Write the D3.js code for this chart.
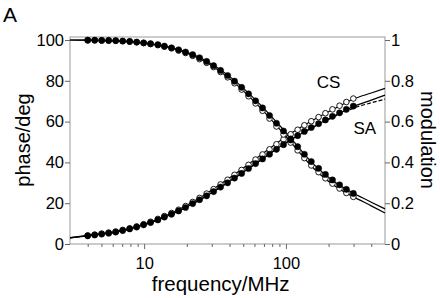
<!DOCTYPE html>
<html><head><meta charset="utf-8">
<script src="https://cdn.jsdelivr.net/npm/d3@7/dist/d3.min.js"></script>
<style>body{margin:0;background:#fff}svg{display:block}text{font-family:"Liberation Sans",Arial,Helvetica,sans-serif}</style>
</head><body><svg id="c" width="440" height="298"></svg>
<script>
// data
const freq = [4.00,4.48,5.02,5.62,6.30,7.06,7.91,8.86,9.92,11.1,12.5,13.9,15.6,17.5,19.6,22.0,24.6,27.6,30.9,34.6,38.8,43.4,48.7,54.5,61.1,68.4,76.6,85.8,96.2,108,121,135,151,170,190,213,239,267,299];
const phaseSA = [4.0,4.4,4.85,5.3,5.85,6.6,7.4,8.3,9.4,10.5,11.8,13.2,14.6,16.2,17.9,19.8,21.7,23.6,25.7,27.9,30.0,32.3,34.6,37.0,39.4,41.7,44.0,46.4,48.7,51.0,53.1,55.2,57.1,59.0,60.8,62.6,64.3,66.0,67.6];
const phaseCS = [4.2,4.6,5.1,5.6,6.1,6.9,7.7,8.6,9.7,10.9,12.3,13.7,15.2,16.8,18.6,20.6,22.6,24.7,26.9,29.2,31.5,33.9,36.3,38.8,41.4,43.9,46.4,48.9,51.3,53.8,56.0,58.2,60.2,62.2,64.1,66.0,67.8,69.6,71.3];
const modSA = [0.999,0.999,0.998,0.998,0.997,0.995,0.993,0.990,0.986,0.982,0.977,0.970,0.962,0.952,0.941,0.928,0.913,0.895,0.874,0.851,0.826,0.798,0.768,0.736,0.702,0.667,0.630,0.592,0.554,0.515,0.477,0.440,0.404,0.371,0.341,0.314,0.290,0.268,0.248];
const modCS = [0.999,0.999,0.998,0.997,0.996,0.994,0.992,0.989,0.985,0.980,0.975,0.967,0.959,0.948,0.936,0.922,0.906,0.888,0.867,0.843,0.817,0.788,0.757,0.724,0.689,0.653,0.615,0.576,0.537,0.497,0.459,0.421,0.385,0.352,0.322,0.296,0.272,0.250,0.231];
// fitted curves
const fitFreq = [3,4,6.3,10,15.8,25.1,39.8,63.1,100,158,251,300,400,500];
const fitPhaseSA = [3.0,4.0,5.8,9.4,14.7,21.9,30.6,40.0,49.6,57.6,64.8,67.4,70.5,73.0];
const fitPhaseCS = [3.1,4.2,6.1,9.7,15.3,22.9,32.3,42.4,52.6,61.0,68.4,71.1,74.0,76.3];
const fitPhaseSAdash = [3.0,4.0,5.8,9.4,14.7,21.9,30.6,40.0,49.6,57.4,64.3,66.6,69.2,71.0];
const fitModSA = [1.0,0.999,0.997,0.986,0.962,0.912,0.823,0.697,0.547,0.389,0.279,0.249,0.205,0.172];
const fitModCS = [1.0,0.999,0.996,0.985,0.959,0.906,0.812,0.682,0.528,0.369,0.260,0.231,0.187,0.152];
const majorX = [10,100];
const minorX = [4,5,6,7,8,9,20,30,40,50,60,70,80,90,200,300,400];
const leftTicks = [0,20,40,60,80,100];
const rightTicks = [0,0.2,0.4,0.6,0.8,1];

const svg = d3.select("#c");
const L=70,R=385,T=37,B=244;
const x = d3.scaleLog().domain([3,500]).range([L,R]);
const y = d3.scaleLinear().domain([0,100]).range([B,40]);
const y2 = d3.scaleLinear().domain([0,1]).range([B,40]);

// frame
svg.append("rect").attr("x",L).attr("y",T).attr("width",R-L).attr("height",B-T)
  .attr("fill","none").attr("stroke","#999").attr("stroke-width",1);

function styleAxis(g){
  g.select(".domain").remove();
  g.selectAll(".tick line").attr("stroke","#666");
  g.selectAll(".tick text").attr("fill","#000").attr("font-size",16.5);
}
svg.append("g").attr("transform",`translate(${L},0)`)
  .call(d3.axisLeft(y).tickValues(leftTicks).tickSize(5).tickPadding(1).tickFormat(d3.format("d"))).call(styleAxis);
svg.append("g").attr("transform",`translate(${R},0)`)
  .call(d3.axisRight(y2).tickValues(rightTicks).tickSize(5).tickPadding(1).tickFormat(d=>d===0?"0":d===1?"1":d3.format(".1f")(d))).call(styleAxis);
svg.append("g").attr("transform",`translate(0,${B})`)
  .call(d3.axisBottom(x).tickValues(majorX).tickSize(5).tickPadding(8).tickFormat(d3.format("d"))).call(styleAxis);
svg.append("g").attr("transform",`translate(0,${B})`)
  .call(d3.axisBottom(x).tickValues(minorX).tickSize(3).tickFormat("")).call(styleAxis);

// fit lines
const line = (ys, sc) => d3.line().x((d,i)=>x(fitFreq[i])).y(d=>sc(d)).curve(d3.curveMonotoneX)(ys);
const lines = [[fitPhaseCS,y,null],[fitPhaseSA,y,null],[fitPhaseSAdash,y,"4,2"],[fitModSA,y2,null],[fitModCS,y2,null]];
lines.forEach(([ys,sc,dash])=>{
  svg.append("path").attr("d",line(ys,sc)).attr("fill","none").attr("stroke","#000")
    .attr("stroke-width",1.2).attr("stroke-dasharray",dash);
});

// points
function pts(vals, sc, open){
  svg.append("g").selectAll("circle").data(vals).join("circle")
    .attr("cx",(d,i)=>x(freq[i])).attr("cy",d=>sc(d)).attr("r",open?2.8:3.1)
    .attr("fill",open?"#fff":"#000").attr("stroke","#000").attr("stroke-width",open?0.9:0.5);
}
pts(phaseCS,y,true);
pts(modCS,y2,true);
pts(phaseSA,y,false);
pts(modSA,y2,false);

// labels
svg.append("text").attr("x",220.7).attr("y",290.5).attr("text-anchor","middle").attr("font-size",20.5).text("frequency/MHz");
svg.append("text").attr("transform","translate(30,140) rotate(-90)").attr("text-anchor","middle").attr("font-size",20).text("phase/deg");
svg.append("text").attr("transform","translate(421,140) rotate(90)").attr("text-anchor","middle").attr("font-size",20).text("modulation");
svg.append("text").attr("x",3).attr("y",22).attr("font-size",21).text("A");
svg.append("text").attr("x",316.7).attr("y",88).attr("font-size",17).text("CS");
svg.append("text").attr("x",353.5).attr("y",134).attr("font-size",17).text("SA");
</script></body></html>
